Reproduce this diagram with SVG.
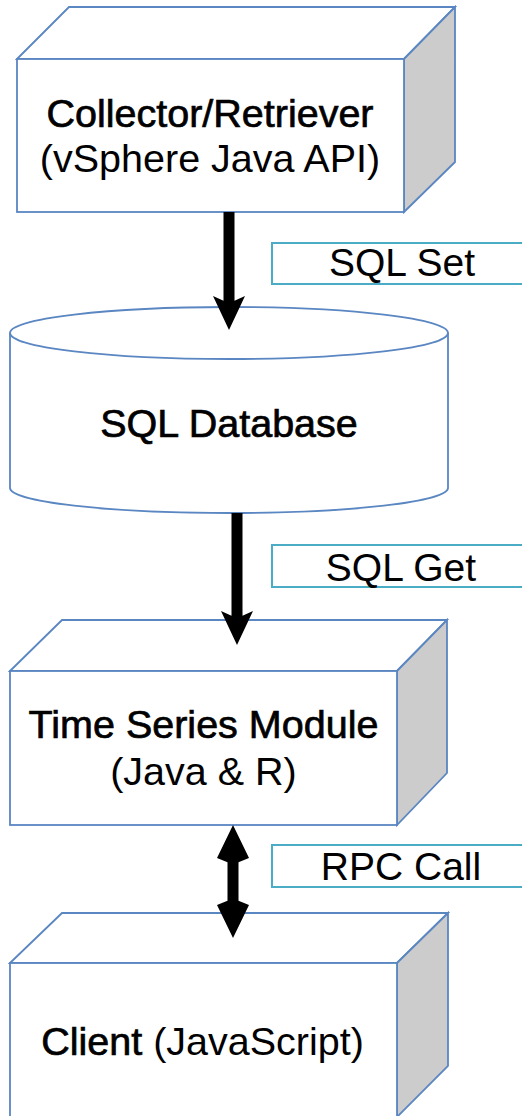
<svg xmlns="http://www.w3.org/2000/svg" width="522" height="1116" viewBox="0 0 522 1116">
<style>
.front{fill:#ffffff;stroke:#5a86c2;stroke-width:1.8}
.side{fill:#cccccc;stroke:#5a86c2;stroke-width:1.8}
.top{fill:#ffffff;stroke:#5a86c2;stroke-width:1.8}
.t{font-family:"Liberation Sans",Arial,sans-serif;font-size:39.5px;fill:#000;text-anchor:middle}
.b{stroke:#000;stroke-width:0.7}
.lbl{fill:#ffffff;stroke:#4bacc6;stroke-width:2}
.lt{font-family:"Liberation Sans",Arial,sans-serif;font-size:39px;fill:#000;text-anchor:middle}
.arr{fill:#000;stroke:none}
</style>
<rect width="522" height="1116" fill="#ffffff"/>
<g id="node-collector">
  <polygon class="top" points="17,59 69,7 455,7 404,59"/>
  <polygon class="side" points="404,59 455,7 455,162 404,212"/>
  <rect class="front" x="17" y="59" width="387" height="153"/>
  <text class="t b" x="210" y="127">Collector/Retriever</text>
  <text class="t" x="210" y="172">(vSphere Java API)</text>
</g>
<g id="node-sqldb">
  <path class="front" d="M10,333 V488 A219,25 0 0 0 448,488 V333"/>
  <ellipse class="top" cx="229" cy="333" rx="219" ry="26"/>
  <text class="t b" x="229" y="437">SQL Database</text>
</g>
<g id="node-timeseries">
  <polygon class="top" points="10,671 62,620 447,620 397,671"/>
  <polygon class="side" points="397,671 447,620 447,773 397,825"/>
  <rect class="front" x="10" y="671" width="387" height="154"/>
  <text class="t b" x="203.5" y="738">Time Series Module</text>
  <text class="t" x="203.5" y="785">(Java &amp; R)</text>
</g>
<g id="node-client">
  <polygon class="top" points="10,963 62,913 448,913 397,963"/>
  <polygon class="side" points="397,963 448,913 448,1066 397,1117"/>
  <rect class="front" x="10" y="963" width="387" height="154"/>
  <text class="t" x="202.5" y="1055"><tspan class="b">Client</tspan> (JavaScript)</text>
</g>
<g id="connectors">
  <path class="arr" d="M223.5,212 H234.5 V300.8 L245,296 L229,330 L213,296 L223.5,300.8 Z"/>
  <path class="arr" d="M231.5,513 H242.5 V615.8 L253,611 L237,645 L221,611 L231.5,615.8 Z"/>
  <path class="arr" d="M227.5,862.2 L217,858 L233,825 L249,858 L238.5,862.2 V900.8 L249,905 L233,938 L217,905 L227.5,900.8 Z"/>
  <g id="label-sqlset">
    <rect class="lbl" x="272" y="243" width="260" height="41"/>
    <text class="lt" x="402" y="276">SQL Set</text>
  </g>
  <g id="label-sqlget">
    <rect class="lbl" x="272" y="545" width="260" height="42"/>
    <text class="lt" x="401" y="581">SQL Get</text>
  </g>
  <g id="label-rpc">
    <rect class="lbl" x="272" y="845" width="260" height="42"/>
    <text class="lt" x="401" y="880">RPC Call</text>
  </g>
</g>
</svg>
